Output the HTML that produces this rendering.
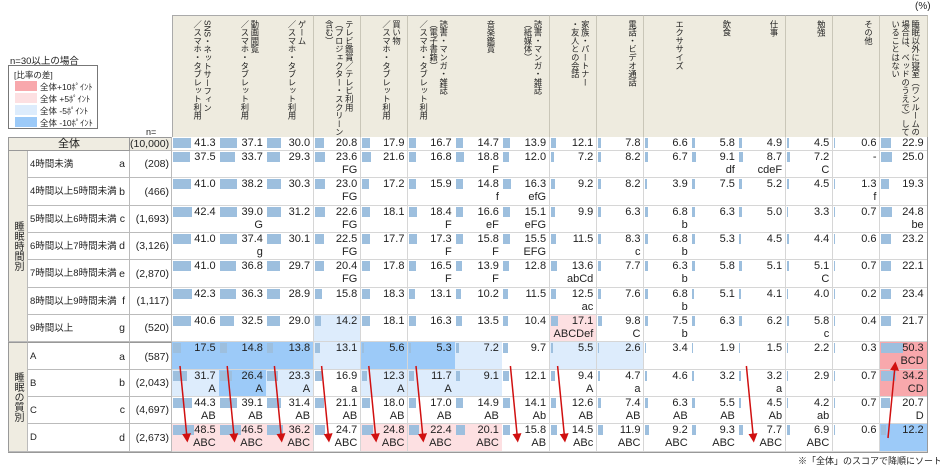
<!DOCTYPE html>
<html><head><meta charset="utf-8">
<style>
body{margin:0;background:#fff;width:940px;height:467px;overflow:hidden;position:relative;font-family:"Liberation Sans","Noto Sans CJK JP",sans-serif;color:#222}
.a{position:absolute;box-sizing:border-box}
.hd{background:#eeebdf;border-right:1px solid #c9c6b8;border-top:1px solid #aaa}
.ht{position:absolute;top:4px;right:6px;writing-mode:vertical-rl;font-size:8.3px;line-height:10px;color:#222;white-space:nowrap}
.cell{border-right:1px solid #d6d6d6;border-bottom:1px solid #d6d6d6}
.v{position:absolute;right:3px;top:0;font-size:11px;line-height:13px}
.l{position:absolute;right:3px;top:13px;font-size:11px;line-height:13px}
.bar{position:absolute;left:1px;top:1px;height:10px;background:#9dbfde}
.lab{background:#efece1;border-bottom:1px solid #bbb;border-right:1px solid #bbb}
.rl{background:#fff;border-bottom:1px solid #bbb;border-right:1px solid #bbb;font-size:9.5px;white-space:nowrap}
.lg{position:absolute;left:31px;white-space:nowrap;font-size:8.5px}
</style></head><body>
<div class="a" style="left:915px;top:1px;font-size:10px">(%)</div>
<div class="a" style="left:10px;top:53px;font-size:9.5px;white-space:nowrap">n=30以上の場合</div>
<div class="a" style="left:8px;top:65px;width:90px;height:64px;border:1px solid #777;font-size:8.5px">
 <div class="a" style="left:5px;top:3px;white-space:nowrap">[比率の差]</div>
 <div class="a" style="left:6px;top:15px;width:22px;height:10px;background:#f8a8ac"></div><div class="lg" style="top:15px">全体+10ﾎﾟｲﾝﾄ</div>
 <div class="a" style="left:6px;top:27px;width:22px;height:10px;background:#fde0e2"></div><div class="lg" style="top:27px">全体 +5ﾎﾟｲﾝﾄ</div>
 <div class="a" style="left:6px;top:39px;width:22px;height:10px;background:#ddecfc"></div><div class="lg" style="top:39px">全体 -5ﾎﾟｲﾝﾄ</div>
 <div class="a" style="left:6px;top:51px;width:22px;height:10px;background:#9ccaf8"></div><div class="lg" style="top:51px">全体 -10ﾎﾟｲﾝﾄ</div>
</div>
<div class="a" style="left:146px;top:127px;font-size:9px">n=</div>
<div class="a" style="left:798px;top:454px;font-size:9px;white-space:nowrap">※「全体」のスコアで降順にソート</div>
<div id="t"></div>
<svg class="a" id="arr" style="left:0;top:0" width="940" height="467"></svg>
<script>
const headers=[["SNS・ネットサーフィン","／スマホ・タブレット利用"],["動画閲覧","／スマホ・タブレット利用"],["ゲーム","／スマホ・タブレット利用"],["テレビ鑑賞／テレビ利用","（プロジェクター・スクリーン","含む）"],["買い物","／スマホ・タブレット利用"],["読書・マンガ・雑誌","（電子書籍）","／スマホ・タブレット利用"],["音楽鑑賞"],["読書・マンガ・雑誌","（紙媒体）"],["家族・パートナー","・友人との会話"],["電話・ビデオ通話"],["エクササイズ"],["飲食"],["仕事"],["勉強"],["その他"],["睡眠以外に寝室（ワンルームの","場合は、ベッドのうえで）して","いることはない"]];
const rowLabels=["4時間未満","4時間以上5時間未満","5時間以上6時間未満","6時間以上7時間未満","7時間以上8時間未満","8時間以上9時間未満","9時間以上","A","B","C","D"];
const rowKeys=["a","b","c","d","e","f","g","a","b","c","d"];
const rowN=["(208)","(466)","(1,693)","(3,126)","(2,870)","(1,117)","(520)","(587)","(2,043)","(4,697)","(2,673)"];
const totalVals=[41.3,37.1,30.0,20.8,17.9,16.7,14.7,13.9,12.1,7.8,6.6,5.8,4.9,4.5,0.6,22.9];
const vals=[
[37.5,33.7,29.3,23.6,21.6,16.8,18.8,12.0,7.2,8.2,6.7,9.1,8.7,7.2,null,25.0],
[41.0,38.2,30.3,23.0,17.2,15.9,14.8,16.3,9.2,8.2,3.9,7.5,5.2,4.5,1.3,19.3],
[42.4,39.0,31.2,22.6,18.1,18.4,16.6,15.1,9.9,6.3,6.8,6.3,5.0,3.3,0.7,24.8],
[41.0,37.4,30.1,22.5,17.7,17.3,15.8,15.5,11.5,8.3,6.8,5.3,4.5,4.4,0.6,23.2],
[41.0,36.8,29.7,20.4,17.8,16.5,13.9,12.8,13.6,7.7,6.3,5.8,5.1,5.1,0.7,22.1],
[42.3,36.3,28.9,15.8,18.3,13.1,10.2,11.5,12.5,7.6,6.8,5.1,4.1,4.0,0.2,23.4],
[40.6,32.5,29.0,14.2,18.1,16.3,13.5,10.4,17.1,9.8,7.5,6.3,6.2,5.8,0.4,21.7],
[17.5,14.8,13.8,13.1,5.6,5.3,7.2,9.7,5.5,2.6,3.4,1.9,1.5,2.2,0.3,50.3],
[31.7,26.4,23.3,16.9,12.3,11.7,9.1,12.1,9.4,4.7,4.6,3.2,3.2,2.9,0.7,34.2],
[44.3,39.1,31.4,21.1,18.0,17.0,14.9,14.1,12.6,7.4,6.3,5.5,4.5,4.2,0.7,20.7],
[48.5,46.5,36.2,24.7,24.8,22.4,20.1,15.8,14.5,11.9,9.2,9.3,7.7,6.9,0.6,12.2]];
const sig=[
["","","","FG","","","F","","","","","df","cdeF","C","",""],
["","","","FG","","","f","efG","","","","","","","f",""],
["","G","","FG","","F","eF","eFG","","","b","","","","","be"],
["","g","","FG","","F","F","EFG","","c","b","","","","",""],
["","","","FG","","F","F","","abCd","","b","","","C","",""],
["","","","","","","","","ac","","b","","","","",""],
["","","","","","","","","ABCDef","C","b","","","c","",""],
["","","","","","","","","","","","","","","","BCD"],
["A","A","A","a","A","A","","","A","a","","","a","","","CD"],
["AB","AB","AB","AB","AB","AB","AB","Ab","AB","AB","AB","AB","Ab","ab","","D"],
["ABC","ABC","ABC","ABC","ABC","ABC","ABC","AB","ABc","ABC","ABC","ABC","ABC","ABC","",""]];
const shade=[
"................","................","................","................","................","................",
"...b....p.......",
"BBBbBBb.bb.....P",
"bBb.bbb........P",
"................",
"ppp.ppp........B"];
const downCols=[0,1,2,3,4,5,7,8,12];
const upCols=[15];
const colX=i=>172+i*47.2, colW=47.2, barScale=0.44;
const rowTop=[151,178,206,233,260,288,315,342,370,397,424], tableBottom=452;
const fills={P:"#f8a8ac",p:"#fde0e2",b:"#ddecfc",B:"#9ccaf8"};
const t=document.getElementById('t');
function mk(cls,css,name,html){const d=document.createElement('div');d.className='a '+cls;d.style.cssText=css;


if(html!==undefined)d.innerHTML=html;t.appendChild(d);return d;}
headers.forEach((h,i)=>{mk('hd',`left:${colX(i)}px;top:15px;width:${colW+0.5}px;height:122px;`+(i==0?'border-left:1px solid #aaa;':''),'column-header','<div class="ht">'+h.join('<br>')+'</div>');});
mk('lab',`left:8px;top:137px;width:122px;height:14px;border:1px solid #999;font-size:11px;text-align:center;line-height:12px`,'total-label','全体');
mk('lab',`left:130px;top:137px;width:42px;height:14px;border-top:1px solid #999;font-size:10.5px;text-align:right;padding-right:2px;line-height:12px`,'total-n','(10,000)');
function cellAt(i,top,h,v,s,f,name){
 const c=mk('cell',`left:${colX(i)}px;top:${top}px;width:${colW+0.5}px;height:${h}px;background:${f||'#fff'}`,name);
 if(v!==null){const b=document.createElement('div');b.className='bar';b.style.width=(v*barScale)+'px';
 
 c.appendChild(b);}
 const tv=document.createElement('div');tv.className='v';tv.textContent=v===null?'-':v.toFixed(1);
 
 c.appendChild(tv);
 if(s){const tl=document.createElement('div');tl.className='l';tl.textContent=s;
 
 c.appendChild(tl);}
}
totalVals.forEach((v,i)=>cellAt(i,137,14,v,'',null,'total-cell'));
mk('lab','left:8px;top:151px;width:20px;height:191px;border-left:1px solid #999;font-size:10px;writing-mode:vertical-rl;text-align:center;line-height:20px','group-sleep-hours','睡眠時間別');
mk('lab','left:8px;top:342px;width:20px;height:110px;border-left:1px solid #999;border-top:1px solid #999;font-size:10px;writing-mode:vertical-rl;text-align:center;line-height:20px','group-sleep-quality','睡眠の質別');
rowLabels.forEach((r,k)=>{
 const top=rowTop[k],h=(k<10?rowTop[k+1]:tableBottom)-top, bt=k==7?'border-top:1px solid #999;':'';
 mk('rl',`left:28px;top:${top}px;width:102px;height:${h}px;line-height:${h}px;padding-left:2px;${bt}`,'row-label',r+'<span style="position:absolute;right:4px;font-size:10.5px">'+rowKeys[k]+'</span>');
 mk('rl',`left:130px;top:${top}px;width:42px;height:${h}px;line-height:${h}px;text-align:right;padding-right:2px;font-size:10.5px;${bt}`,'row-n',rowN[k]);
 vals[k].forEach((v,i)=>cellAt(i,top,h,v,sig[k][i],fills[shade[k][i]],'data-cell'));
});
mk('','left:8px;top:'+tableBottom+'px;width:920px;height:1px;background:#999','table-bottom-border');
mk('','left:927px;top:137px;width:1px;height:'+(tableBottom-137)+'px;background:#999','table-right-border');
const svg=document.getElementById('arr'),NS='http://www.w3.org/2000/svg';
svg.innerHTML='<defs><marker id="m" markerWidth="6" markerHeight="6" refX="3" refY="3" orient="auto"><path d="M0,0L6,3L0,6z" fill="#d01010"/></marker></defs>';
function arrow(x1,y1,x2,y2){const l=document.createElementNS(NS,'line');l.setAttribute('x1',x1);l.setAttribute('y1',y1);l.setAttribute('x2',x2);l.setAttribute('y2',y2);
l.setAttribute('stroke','#d01010');l.setAttribute('stroke-width','1.5');l.setAttribute('marker-end','url(#m)');

svg.appendChild(l);}
downCols.forEach(i=>arrow(colX(i)+8,366,colX(i)+15,438));
upCols.forEach(i=>arrow(colX(i)+8,438,colX(i)+15,366));
</script>
</body></html>
